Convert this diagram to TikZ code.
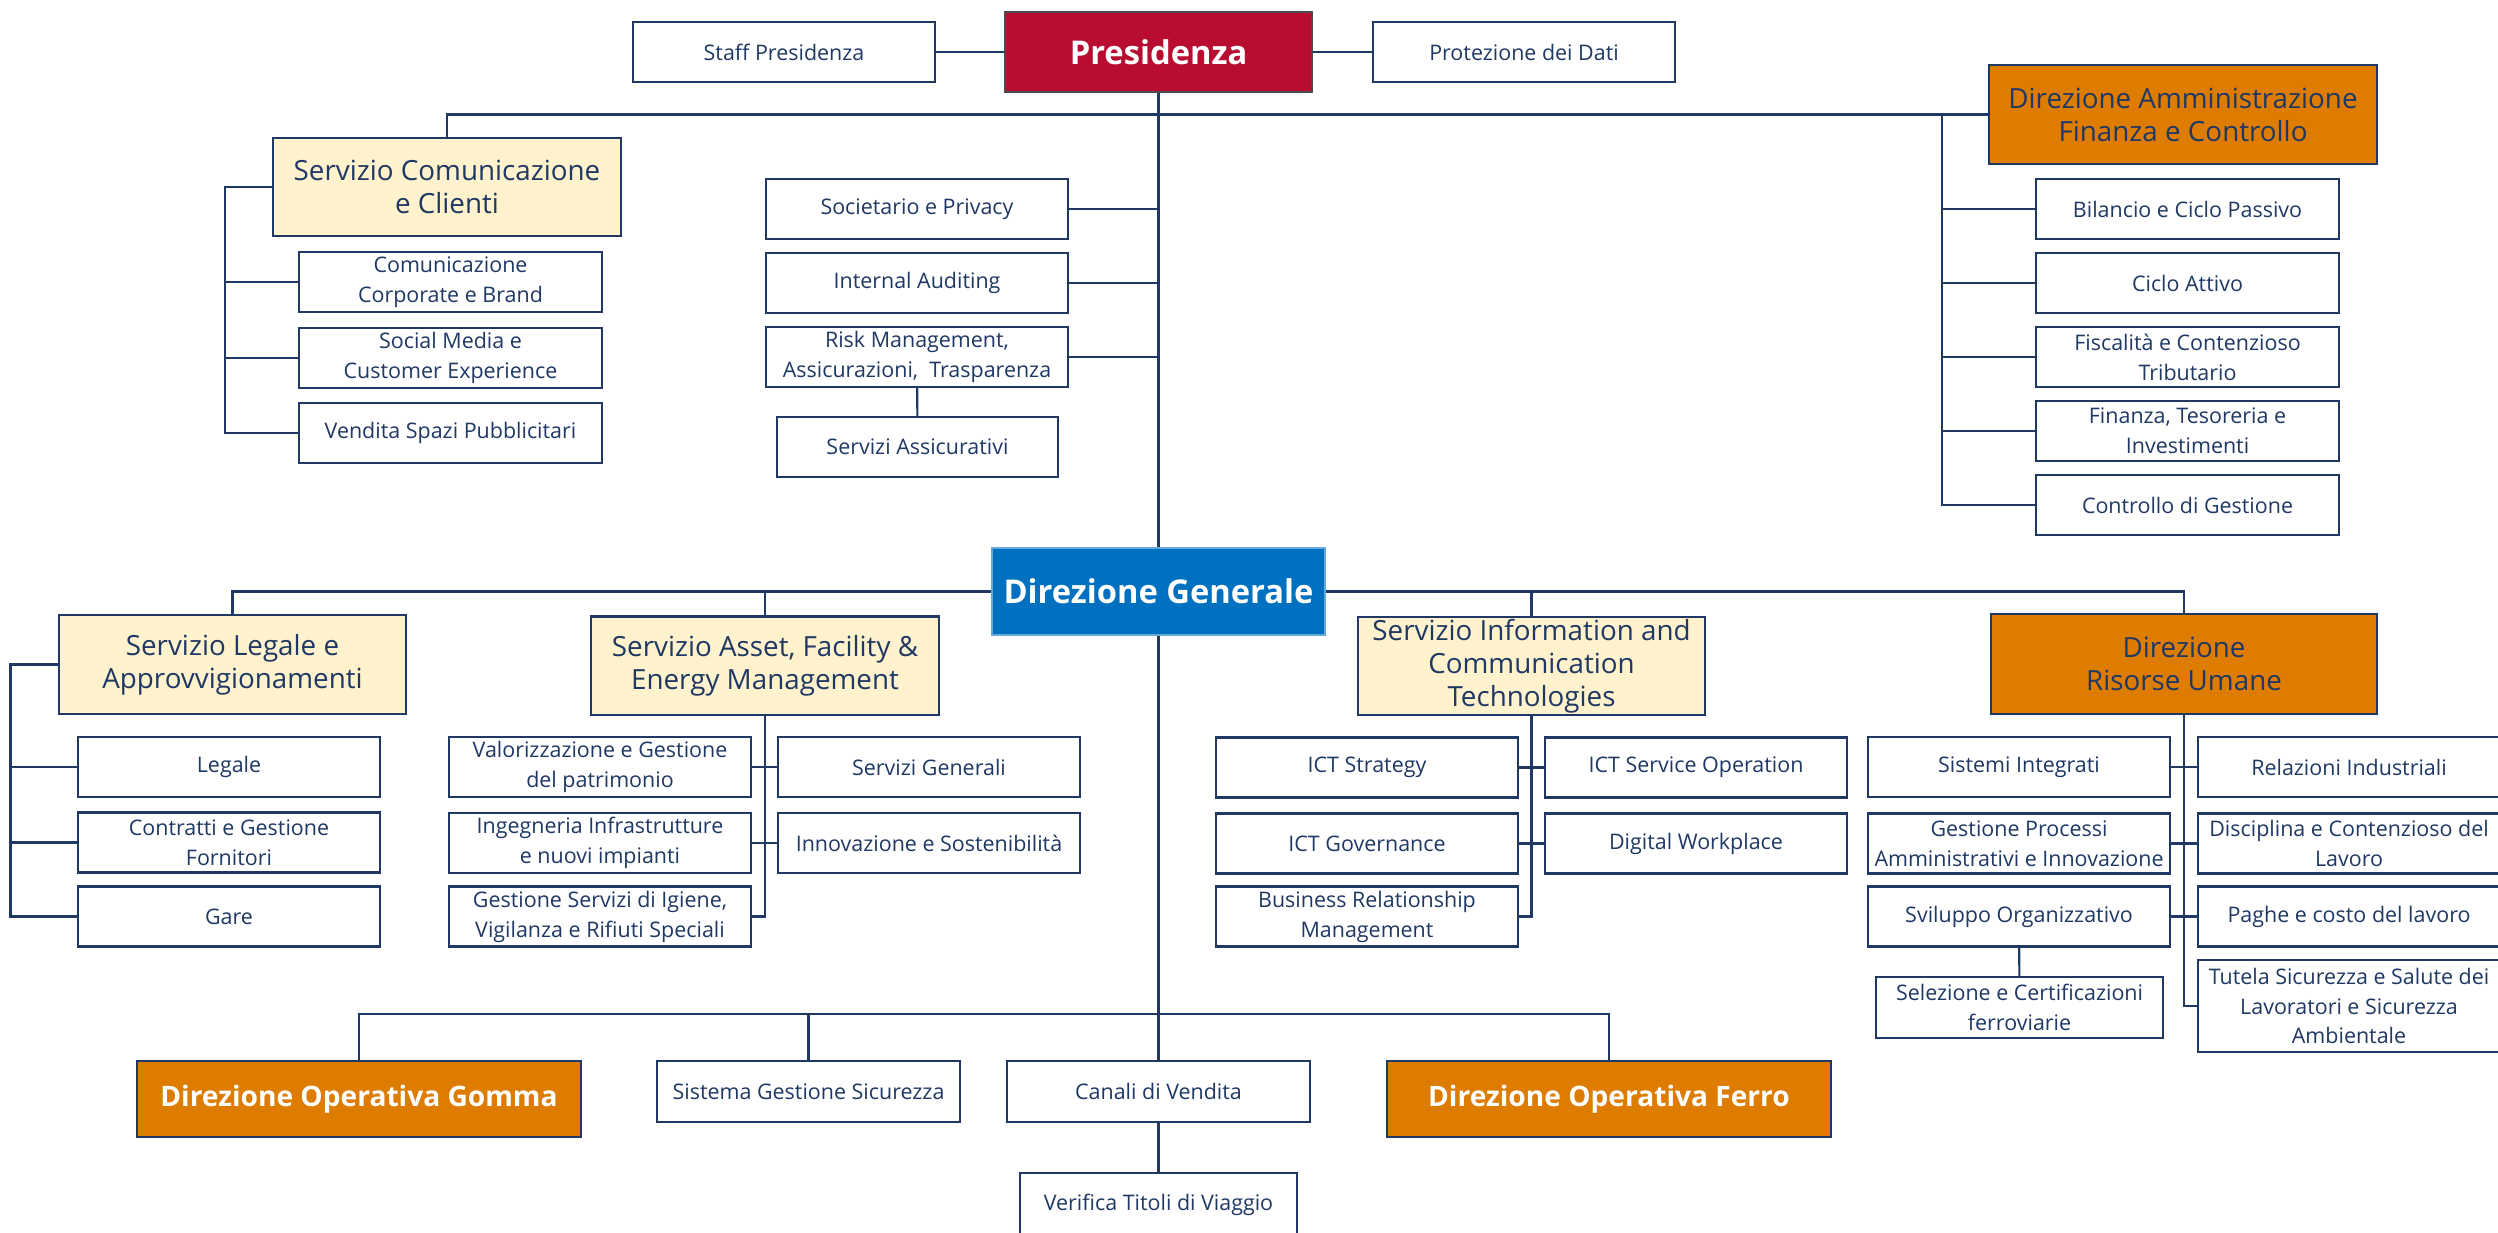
\documentclass[tikz,border=0pt]{standalone}
\usepackage{fontspec}
\setmainfont{Open Sans}
\usepackage{tikz}

\definecolor{navy}{HTML}{1F3864}
\definecolor{presred}{HTML}{B80D30}
\definecolor{dgblue}{HTML}{0070C0}
\definecolor{dirorange}{HTML}{DE7C00}
\definecolor{servcream}{HTML}{FFF2CC}

\newcommand{\unitfont}{\fontsize{6.1}{8.5}\selectfont}
\newcommand{\servfont}{\fontsize{7.9}{9.4}\selectfont}

\begin{document}
\begin{tikzpicture}[x=0.01cm,y=-0.01cm,
    unit/.style={draw=navy,line width=0.6pt,fill=white,text=navy,align=center,
      inner sep=0pt,minimum width=3.02cm,minimum height=0.6cm,font=\unitfont},
    service/.style={unit,fill=servcream,minimum width=3.48cm,minimum height=0.98cm,font=\servfont},
    direction/.style={service,fill=dirorange},
    headbox/.style={unit,text=white,font=\fontsize{9.3}{11}\selectfont\bfseries},
    opbox/.style={headbox,fill=dirorange,minimum width=4.44cm,minimum height=0.76cm,
      font=\fontsize{8.0}{10}\selectfont\bfseries},
    link/.style={draw=navy,line width=0.6pt}]

    \useasboundingbox (0,0) rectangle (2498,1232);

    % draw top level
    \node[headbox,fill=presred,draw=black!70,minimum width=3.07cm,minimum height=0.8cm] (pres) at (1158.5,52) {Presidenza};
    \node[unit] (staff) at (784,52) {Staff Presidenza};
    \node[unit] (prot) at (1524,52) {Protezione dei Dati};

    % draw staff units
    \node[service] (scc) at (447,187) {Servizio Comunicazione\\e Clienti};
    \node[unit,minimum width=3.03cm] (com1) at (450.5,282) {Comunicazione\\Corporate e Brand};
    \node[unit,minimum width=3.03cm] (com2) at (450.5,358) {Social Media e\\Customer Experience};
    \node[unit,minimum width=3.03cm] (com3) at (450.5,433) {Vendita Spazi Pubblicitari};

    \node[unit] (soc) at (917,209) {Societario e Privacy};
    \node[unit] (aud) at (917,283) {Internal Auditing};
    \node[unit] (risk) at (917,357) {Risk Management,\\Assicurazioni,\ \ Trasparenza};
    \node[unit,minimum width=2.81cm] (assic) at (917.5,447) {Servizi Assicurativi};

    \node[direction,minimum width=3.88cm,minimum height=0.99cm] (dafc) at (2183,114.5) {Direzione Amministrazione\\Finanza e Controllo};
    \node[unit,minimum width=3.03cm] (afc1) at (2187.5,209) {Bilancio e Ciclo Passivo};
    \node[unit,minimum width=3.03cm] (afc2) at (2187.5,283) {Ciclo Attivo};
    \node[unit,minimum width=3.03cm] (afc3) at (2187.5,357) {Fiscalità e Contenzioso\\Tributario};
    \node[unit,minimum width=3.03cm] (afc4) at (2187.5,431) {Finanza, Tesoreria e\\Investimenti};
    \node[unit,minimum width=3.03cm] (afc5) at (2187.5,505) {Controllo di Gestione};

    % draw direzione generale
    \node[headbox,fill=dgblue,draw=dgblue!60,minimum width=3.33cm,minimum height=0.87cm] (dg) at (1158.5,591.5) {Direzione Generale};

    \node[service,minimum width=3.47cm,minimum height=0.99cm] (sla) at (232.5,664.5) {Servizio Legale e\\Approvvigionamenti};
    \node[unit] (leg1) at (229,767) {Legale};
    \node[unit] (leg2) at (229,842.5) {Contratti e Gestione\\Fornitori};
    \node[unit] (leg3) at (229,916.5) {Gare};

    \node[service] (safem) at (765,665.5) {Servizio Asset, Facility \&\\Energy Management};
    \node[unit] (ast1) at (600,767) {Valorizzazione e Gestione\\del patrimonio};
    \node[unit] (ast2) at (929,767) {Servizi Generali};
    \node[unit] (ast3) at (600,843) {Ingegneria Infrastrutture\\e nuovi impianti};
    \node[unit] (ast4) at (929,843) {Innovazione e Sostenibilità};
    \node[unit] (ast5) at (600,916.5) {Gestione Servizi di Igiene,\\Vigilanza e Rifiuti Speciali};

    \node[service,minimum width=3.47cm] (sict) at (1531.5,666) {Servizio Information and\\Communication\\Technologies};
    \node[unit] (ict1) at (1367,767.5) {ICT Strategy};
    \node[unit] (ict2) at (1696,767.5) {ICT Service Operation};
    \node[unit] (ict3) at (1367,843.5) {ICT Governance};
    \node[unit] (ict4) at (1696,843.5) {Digital Workplace};
    \node[unit] (ict5) at (1367,916.5) {Business Relationship\\Management};

    \node[direction,minimum width=3.86cm,minimum height=1cm] (dru) at (2184,664) {Direzione\\Risorse Umane};
    \node[unit] (hr1) at (2019,767) {Sistemi Integrati};
    \node[unit] (hr2) at (2349,767) {Relazioni Industriali};
    \node[unit] (hr3) at (2019,843.5) {Gestione Processi\\Amministrativi e Innovazione};
    \node[unit] (hr4) at (2349,843.5) {Disciplina e Contenzioso del\\Lavoro};
    \node[unit] (hr5) at (2019,916.5) {Sviluppo Organizzativo};
    \node[unit] (hr6) at (2349,916.5) {Paghe e costo del lavoro};
    \node[unit,minimum height=0.92cm] (hr7) at (2349,1006) {Tutela Sicurezza e Salute dei\\Lavoratori e Sicurezza\\Ambientale};
    \node[unit,minimum width=2.87cm,minimum height=0.61cm] (hr8) at (2019.5,1007.5) {Selezione e Certificazioni\\ferroviarie};

    % draw operative level
    \node[opbox] (dog) at (359,1099) {Direzione Operativa Gomma};
    \node[unit,minimum width=3.03cm,minimum height=0.61cm] (sgs) at (808.5,1091.5) {Sistema Gestione Sicurezza};
    \node[unit,minimum width=3.03cm,minimum height=0.61cm] (canali) at (1158.5,1091.5) {Canali di Vendita};
    \node[opbox] (dof) at (1609,1099) {Direzione Operativa Ferro};
    \node[unit,minimum width=2.77cm,minimum height=0.64cm] (verif) at (1158.5,1205) {Verifica Titoli di Viaggio};

    % draw connectors
    \coordinate (sccbar) at (225,187);
    \coordinate (afcbar) at (1942,114.5);
    \coordinate (slabar) at (10.5,664.5);
    \coordinate (opbar) at (1158.5,1014);

    \draw[link] (staff) -- (pres);
    \draw[link] (pres) -- (prot);
    \draw[link] (pres) -- (dg);
    \draw[link] (scc.north) |- (dafc.west);

    \draw[link] (scc.west) -- (sccbar) |- (com3.west);
    \foreach \n in {1,2}
    \draw[link] (sccbar |- com\n.west) -- (com\n.west);

    \foreach \n in {soc,aud,risk}
    \draw[link] (pres.south |- \n.east) -- (\n.east);
    \draw[link] (risk) -- (assic);

    \draw[link] (afcbar) |- (afc5.west);
    \foreach \n in {1,...,4}
    \draw[link] (afcbar |- afc\n.west) -- (afc\n.west);

    \draw[link] (sla.north) |- (dg.west);
    \draw[link] (dg.east) -| (dru.north);
    \draw[link] (safem.north) -- (safem.north |- dg.west);
    \draw[link] (sict.north) -- (sict.north |- dg.east);

    \draw[link] (sla.west) -- (slabar) |- (leg3.west);
    \foreach \n in {1,2}
    \draw[link] (slabar |- leg\n.west) -- (leg\n.west);

    \draw[link] (safem.south) |- (ast5.east);
    \draw[link] (ast1) -- (ast2);
    \draw[link] (ast3) -- (ast4);

    \draw[link] (sict.south) |- (ict5.east);
    \draw[link] (ict1) -- (ict2);
    \draw[link] (ict3) -- (ict4);

    \draw[link] (dru.south) |- (hr7.west);
    \draw[link] (hr1) -- (hr2);
    \draw[link] (hr3) -- (hr4);
    \draw[link] (hr5) -- (hr6);
    \draw[link] (hr5) -- (hr8);

    \draw[link] (dg) -- (canali);
    \draw[link] (dog.north) |- (opbar) -| (dof.north);
    \draw[link] (sgs.north) -- (sgs.north |- opbar);
    \draw[link] (canali) -- (verif);

  \end{tikzpicture}
\end{document}
